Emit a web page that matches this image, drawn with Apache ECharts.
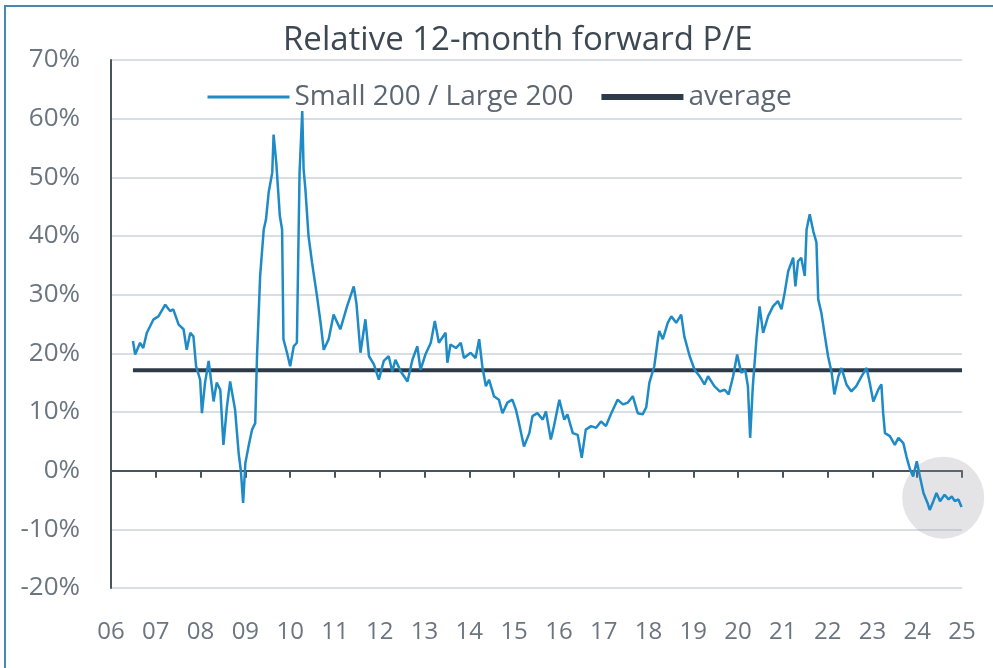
<!DOCTYPE html>
<html>
<head>
<meta charset="utf-8">
<script src="https://cdn.jsdelivr.net/npm/echarts@6/dist/echarts.min.js"></script>
<style>
  body { margin: 0; background: #fff; }
  #main { position: absolute; left: 0; top: 0; width: 993px; height: 668px; }
  #frame { position: absolute; left: 4px; top: 5px; right: 0; bottom: 0;
           border-left: 2px solid #4a86ad; border-top: 2px solid #4a86ad; pointer-events: none; }
</style>
</head>
<body>
<div id="main"></div>
<div id="frame"></div>
<script>
// decimal year of each reading
var dates = [
  2006.49, 2006.54, 2006.65, 2006.72, 2006.80, 2006.95, 2007.06, 2007.21, 2007.32, 2007.39,
  2007.51, 2007.62, 2007.69, 2007.77, 2007.84, 2007.90, 2007.99, 2008.03, 2008.10, 2008.18,
  2008.25, 2008.29, 2008.36, 2008.44, 2008.51, 2008.59, 2008.66, 2008.77, 2008.85, 2008.90,
  2008.95, 2009.00, 2009.07, 2009.15, 2009.22, 2009.26, 2009.33, 2009.41, 2009.46, 2009.52,
  2009.60, 2009.63, 2009.69, 2009.77, 2009.82, 2009.85, 2009.93, 2010.00, 2010.08, 2010.15,
  2010.21, 2010.27, 2010.30, 2010.34, 2010.41, 2010.49, 2010.60, 2010.68, 2010.75, 2010.86,
  2010.97, 2011.12, 2011.27, 2011.42, 2011.48, 2011.57, 2011.68, 2011.76, 2011.87, 2011.98,
  2012.09, 2012.20, 2012.28, 2012.35, 2012.47, 2012.62, 2012.73, 2012.84, 2012.91, 2013.02,
  2013.14, 2013.23, 2013.32, 2013.47, 2013.51, 2013.58, 2013.70, 2013.81, 2013.88, 2014.03,
  2014.14, 2014.22, 2014.29, 2014.37, 2014.44, 2014.55, 2014.66, 2014.74, 2014.85, 2014.96,
  2015.04, 2015.11, 2015.22, 2015.34, 2015.41, 2015.52, 2015.64, 2015.71, 2015.82, 2015.89,
  2016.01, 2016.12, 2016.19, 2016.31, 2016.42, 2016.51, 2016.60, 2016.72, 2016.83, 2016.94,
  2017.05, 2017.16, 2017.31, 2017.43, 2017.54, 2017.65, 2017.76, 2017.87, 2017.95, 2018.02,
  2018.13, 2018.21, 2018.24, 2018.32, 2018.43, 2018.51, 2018.62, 2018.73, 2018.80, 2018.92,
  2019.03, 2019.14, 2019.25, 2019.33, 2019.47, 2019.59, 2019.70, 2019.79, 2019.89, 2019.98,
  2020.07, 2020.16, 2020.22, 2020.27, 2020.33, 2020.41, 2020.48, 2020.56, 2020.67, 2020.78,
  2020.89, 2020.97, 2021.04, 2021.12, 2021.23, 2021.28, 2021.34, 2021.41, 2021.49, 2021.53,
  2021.60, 2021.68, 2021.75, 2021.79, 2021.86, 2021.94, 2022.01, 2022.09, 2022.15, 2022.24,
  2022.31, 2022.42, 2022.53, 2022.64, 2022.76, 2022.87, 2022.94, 2023.02, 2023.13, 2023.20,
  2023.24, 2023.28, 2023.39, 2023.50, 2023.58, 2023.69, 2023.76, 2023.84, 2023.91, 2023.99,
  2024.06, 2024.14, 2024.23, 2024.28, 2024.36, 2024.43, 2024.51, 2024.61, 2024.70, 2024.77,
  2024.84, 2024.92, 2024.99
];

// Small 200 / Large 200 relative forward P/E, %
var relativePE = [
  22.1, 19.8, 21.8, 20.9, 23.5, 25.8, 26.3, 28.3, 27.2, 27.5,
  24.9, 24.1, 20.6, 23.5, 22.9, 17.8, 15.5, 9.8, 15.0, 18.7,
  14.4, 11.8, 15.0, 13.8, 4.4, 11.0, 15.2, 10.4, 3.0, -0.1,
  -5.5, 1.3, 4.1, 7.0, 8.1, 19.5, 33.2, 41.1, 42.8, 47.4,
  50.8, 57.3, 52.5, 43.4, 41.1, 22.4, 20.1, 17.8, 21.2, 21.8,
  50.8, 61.3, 51.4, 48.0, 40.0, 35.4, 29.7, 25.2, 20.6, 22.4,
  26.6, 24.1, 28.0, 31.4, 28.5, 20.1, 25.8, 19.5, 18.1, 15.5,
  18.7, 19.5, 16.9, 18.9, 16.9, 15.2, 18.9, 21.2, 17.2, 19.8,
  21.8, 25.5, 21.8, 23.5, 18.4, 21.5, 20.9, 21.8, 19.2, 20.1,
  19.2, 22.4, 17.8, 14.4, 15.5, 12.7, 12.1, 9.8, 11.6, 12.1,
  10.4, 8.1, 4.1, 6.4, 9.3, 9.8, 8.7, 10.1, 5.3, 7.6,
  12.1, 8.7, 9.6, 6.4, 6.1, 2.2, 7.0, 7.6, 7.3, 8.4,
  7.6, 9.6, 12.1, 11.3, 11.6, 12.7, 9.8, 9.6, 10.8, 15.0,
  17.8, 22.4, 23.8, 22.4, 25.2, 26.3, 25.2, 26.6, 22.9, 19.5,
  17.2, 16.1, 14.7, 16.1, 14.4, 13.5, 13.8, 13.0, 16.1, 19.8,
  16.7, 17.2, 14.4, 5.6, 14.4, 22.4, 28.0, 23.5, 26.3, 28.0,
  28.9, 27.5, 30.3, 34.0, 36.3, 31.4, 35.7, 36.3, 33.2, 41.1,
  43.7, 40.8, 38.9, 29.2, 26.9, 22.9, 19.5, 16.7, 13.0, 16.1,
  17.5, 14.7, 13.5, 14.4, 16.1, 17.5, 15.0, 11.8, 13.8, 14.7,
  9.8, 6.4, 5.9, 4.4, 5.6, 4.7, 2.4, 0.2, -1.0, 1.6,
  -1.0, -3.8, -5.5, -6.7, -5.2, -3.8, -5.2, -4.1, -4.9, -4.4,
  -5.2, -4.9, -6.2
];

var averageValue = 17.1;
var averageSpan = [2006.49, 2025];
var highlightPoint = [2024.58, -4.6];

var chartTitle = 'Relative 12-month forward P/E';
var seriesNames = ['Small 200 / Large 200', 'average'];

var mainData = [];
for (let i = 0; i < dates.length; i++) {
  mainData.push([dates[i], relativePE[i]]);
}

var myChart = echarts.init(document.getElementById('main'));

var fontFamily = '"Open Sans", "Noto Sans", sans-serif';
var labelColor = '#6b7580';
var axisColor = '#4a545e';

var option = {
  animation: false,
  backgroundColor: '#fff',
  title: {
    text: chartTitle,
    left: 278,
    top: 19,
    textStyle: { fontFamily: fontFamily, fontSize: 33, fontWeight: 'normal', color: '#3d4852' }
  },
  legend: {
    data: [
      { name: seriesNames[0], lineStyle: { width: 3 } },
      { name: seriesNames[1], lineStyle: { width: 6 } }
    ],
    left: 201,
    top: 78,
    itemWidth: 82,
    itemHeight: 14,
    itemGap: 25,
    itemStyle: { opacity: 0 },
    textStyle: { fontFamily: fontFamily, fontSize: 28, color: '#5b6670' }
  },
  grid: { left: 111, right: 31, top: 60, bottom: 80, containLabel: false },
  xAxis: [
    {
      type: 'value',
      min: 2006,
      max: 2025,
      interval: 1,
      position: 'bottom',
      axisLine: { show: false, onZero: false },
      axisTick: { show: false },
      splitLine: { show: false },
      axisLabel: {
        margin: 32,
        fontFamily: fontFamily,
        fontSize: 24,
        color: labelColor,
        formatter: function (v) { return String(v).slice(2); }
      }
    },
    {
      type: 'value',
      min: 2006,
      max: 2025,
      interval: 1,
      position: 'bottom',
      axisLine: { show: true, onZero: true, lineStyle: { color: axisColor, width: 2 } },
      axisTick: { show: true, length: 7, lineStyle: { color: axisColor, width: 2 } },
      axisLabel: { show: false },
      splitLine: { show: false }
    }
  ],
  yAxis: {
    type: 'value',
    min: -20,
    max: 70,
    interval: 10,
    axisLine: { show: true, onZero: false, lineStyle: { color: axisColor, width: 2 } },
    axisTick: { show: false },
    splitLine: { lineStyle: { color: '#d8dee4', width: 2 } },
    axisLabel: {
      margin: 31,
      fontFamily: fontFamily,
      fontSize: 26,
      color: labelColor,
      formatter: '{value}%'
    }
  },
  series: [
    {
      name: 'highlight',
      type: 'scatter',
      silent: true,
      z: 1,
      symbolSize: 82,
      itemStyle: { color: 'rgba(150, 152, 158, 0.32)' },
      data: [highlightPoint]
    },
    {
      name: seriesNames[1],
      type: 'line',
      symbol: 'none',
      z: 2,
      color: '#2d3b48',
      lineStyle: { width: 4, color: '#2d3b48' },
      data: [[averageSpan[0], averageValue], [averageSpan[1], averageValue]]
    },
    {
      name: seriesNames[0],
      type: 'line',
      symbol: 'none',
      z: 3,
      color: '#1f8bc6',
      lineStyle: { width: 2.5, color: '#1f8bc6' },
      data: mainData
    }
  ]
};

myChart.setOption(option);
</script>
</body>
</html>
